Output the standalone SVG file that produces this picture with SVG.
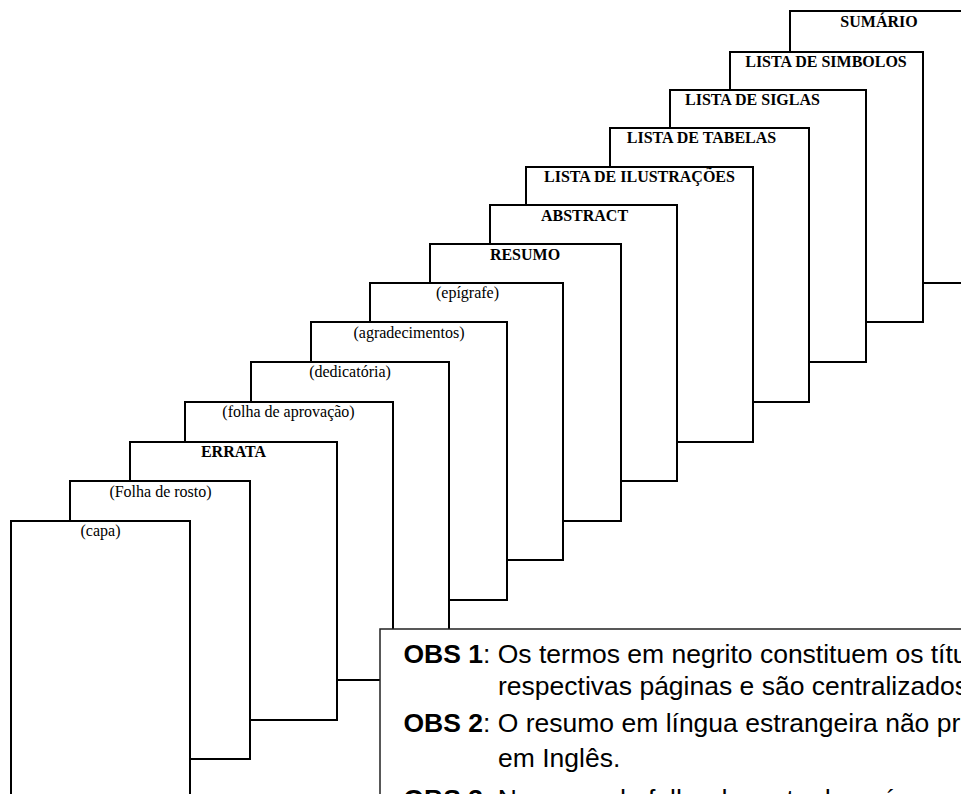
<svg xmlns="http://www.w3.org/2000/svg" width="961" height="794" viewBox="0 0 961 794">
<style>
.pg{fill:#fff;stroke:#000;stroke-width:2}
.lb{font-family:"Liberation Serif","Times New Roman",serif;font-size:16px;fill:#000;text-anchor:middle}
.b{font-weight:bold}
.obs{fill:#fff;stroke:#222;stroke-width:1.5}
.ot{font-family:"Liberation Sans",Arial,sans-serif;font-size:26.5px;fill:#000}
</style>
<rect width="961" height="794" fill="#fff"/>
<g id="sumario"><rect class="pg" x="790" y="11" width="220" height="272"/><text class="lb b" x="879" y="27">SUMÁRIO</text></g>
<g id="lista-simbolos"><rect class="pg" x="730" y="52" width="193" height="270"/><text class="lb b" x="826" y="67">LISTA DE SIMBOLOS</text></g>
<g id="lista-siglas"><rect class="pg" x="670" y="90" width="196" height="272"/><text class="lb b" x="752.5" y="105">LISTA DE SIGLAS</text></g>
<g id="lista-tabelas"><rect class="pg" x="610" y="128" width="199" height="274"/><text class="lb b" x="701.5" y="143">LISTA DE TABELAS</text></g>
<g id="lista-ilustracoes"><rect class="pg" x="526" y="167" width="227" height="275"/><text class="lb b" x="639.5" y="182">LISTA DE ILUSTRAÇÕES</text></g>
<g id="abstract"><rect class="pg" x="490" y="205" width="187" height="276"/><text class="lb b" x="584.5" y="221">ABSTRACT</text></g>
<g id="resumo"><rect class="pg" x="430" y="244" width="191" height="277"/><text class="lb b" x="525" y="260">RESUMO</text></g>
<g id="epigrafe"><rect class="pg" x="370" y="283" width="193" height="277"/><text class="lb" x="467.5" y="298">(epígrafe)</text></g>
<g id="agradecimentos"><rect class="pg" x="311" y="322" width="196" height="278"/><text class="lb" x="409" y="338">(agradecimentos)</text></g>
<g id="dedicatoria"><rect class="pg" x="251" y="362" width="198" height="278"/><text class="lb" x="350" y="377">(dedicatória)</text></g>
<g id="folha-aprovacao"><rect class="pg" x="185" y="402" width="208" height="278"/><text class="lb" x="288.5" y="417">(folha de aprovação)</text></g>
<g id="errata"><rect class="pg" x="130" y="442" width="207" height="278"/><text class="lb b" x="233.5" y="457">ERRATA</text></g>
<g id="folha-rosto"><rect class="pg" x="70" y="481" width="180" height="278"/><text class="lb" x="160.5" y="497">(Folha de rosto)</text></g>
<g id="capa"><rect class="pg" x="11" y="521" width="179" height="290"/><text class="lb" x="100.5" y="536">(capa)</text></g>
<g id="obs">
<rect class="obs" x="380" y="629" width="620" height="200"/>
<text class="ot" x="403.5" y="663"><tspan font-weight="bold">OBS 1</tspan>: Os termos em negrito constituem os títu</text>
<text class="ot" x="498" y="695">respectivas páginas e são centralizados</text>
<text class="ot" x="403.5" y="732"><tspan font-weight="bold">OBS 2</tspan>: O resumo em língua estrangeira não pr</text>
<text class="ot" x="498" y="767">em Inglês.</text>
<text class="ot" x="403.5" y="808"><tspan font-weight="bold">OBS 3</tspan>: No verso da folha de rosto deverá</text>
</g>
</svg>
